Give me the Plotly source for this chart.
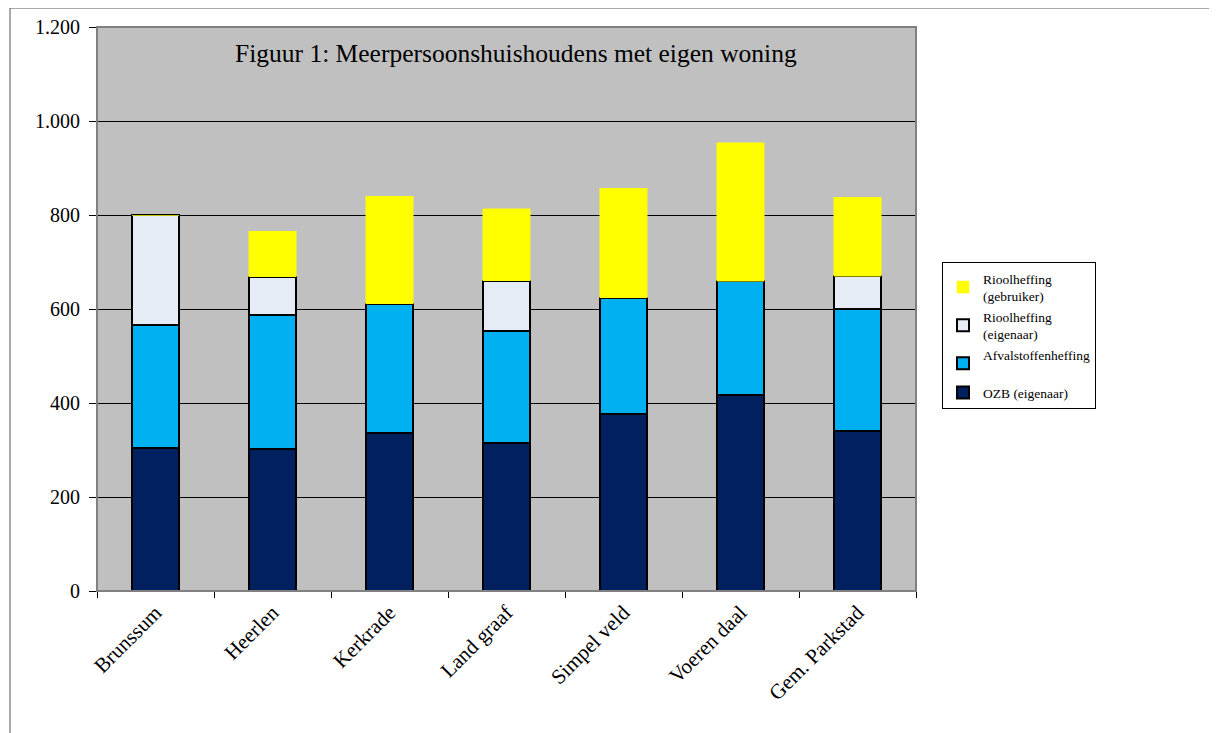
import plotly.graph_objects as go

categories = ["Brunssum", "Heerlen", "Kerkrade", "Land graaf", "Simpel veld", "Voeren daal", "Gem. Parkstad"]
ozb_eigenaar = [305, 302, 337, 314, 376, 416, 341]
afvalstoffenheffing = [260, 285, 274, 239, 248, 243, 258]
riool_eigenaar = [235, 82, 0, 107, 0, 0, 71]
riool_gebruiker = [0, 96, 229, 153, 233, 295, 168]
y_ticks = [0, 200, 400, 600, 800, 1000, 1200]

FONT = "Liberation Serif"

fig = go.Figure()
series = [
    ("OZB (eigenaar)", ozb_eigenaar, "#00205F", "black", 2),
    ("Afvalstoffenheffing<br> ", afvalstoffenheffing, "#00B0F0", "black", 2),
    ("Rioolheffing<br>(eigenaar)", riool_eigenaar, "#E6ECF5", "black", 2),
    ("Rioolheffing<br>(gebruiker)", riool_gebruiker, "#FFFF00", "#FFFF00", 0.5),
]
for name, vals, col, lc, lw in series:
    fig.add_trace(go.Bar(
        x=categories, y=vals, name=name,
        marker=dict(color=col, line=dict(color=lc, width=lw)),
    ))

OFF = 8  # page body margin
W, H = 1217 - OFF, 733 - OFF
L, R, T, B = 97 - OFF, 916 - OFF, 27 - OFF, 591 - OFF
pw, ph = R - L, B - T

def px(x):
    return (x - OFF - L) / pw

def py(y):
    return (B - (y - OFF)) / ph

fig.update_layout(
    width=W, height=H,
    barmode="stack",
    bargap=0.59,
    separators=",.",
    paper_bgcolor="white",
    plot_bgcolor="#C0C0C0",
    margin=dict(l=L, r=W - R, t=T, b=H - B, pad=0, autoexpand=False),
    font=dict(family=FONT, color="black", size=20),
    showlegend=True,
    legend=dict(
        x=px(942), y=py(262), xanchor="left", yanchor="top",
        bgcolor="white", bordercolor="black", borderwidth=1,
        font=dict(family=FONT, size=13.5, color="black"),
        traceorder="reversed", itemwidth=30, tracegroupgap=0,
    ),
    xaxis=dict(
        type="category", tickangle=-45, showgrid=False,
        showline=True, linecolor="black", linewidth=1,
        ticks="outside", tickson="boundaries", ticklen=6, tickcolor="black",
        tickfont=dict(family=FONT, size=21, color="black"),
    ),
    yaxis=dict(
        range=[0, 1200], tickvals=y_ticks, tickformat=",d",
        showgrid=True, gridcolor="black", gridwidth=1,
        showline=True, linecolor="black", linewidth=1,
        ticks="outside", ticklen=7, tickcolor="black",
        ticklabelstandoff=5,
        tickfont=dict(family=FONT, size=20, color="black"),
        zeroline=False,
    ),
    annotations=[dict(
        text="Figuur 1: Meerpersoonshuishoudens met eigen woning",
        x=px(516), y=py(53), xref="paper", yref="paper",
        xanchor="center", yanchor="middle",
        showarrow=False, font=dict(family=FONT, size=25.5, color="black"),
    )],
    shapes=[
        dict(type="rect", xref="paper", yref="paper", x0=0, x1=1, y0=0, y1=1,
             line=dict(color="#808080", width=2), fillcolor="rgba(0,0,0,0)", layer="above"),
        dict(type="rect", xref="paper", yref="paper",
             x0=px(10), x1=px(1215), y0=py(8), y1=py(745),
             line=dict(color="#555555", width=1), fillcolor="rgba(0,0,0,0)"),
    ],
)

fig.write_html("out.html")
